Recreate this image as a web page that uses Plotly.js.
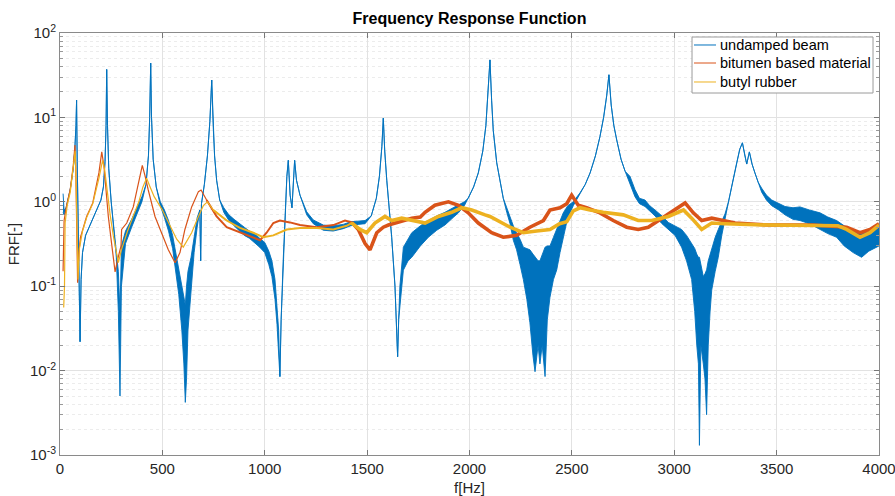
<!DOCTYPE html>
<html>
<head>
<meta charset="utf-8">
<script src="https://cdn.plot.ly/plotly-3.0.1.min.js"></script>
<style>html,body{margin:0;padding:0;background:#fff;}#chart{width:895px;height:496px;}</style>
</head>
<body>
<div id="chart"></div>
<script>
// ---------- data ----------
const seriesNames = ['undamped beam', 'bitumen based material', 'butyl rubber'];

// undamped beam: frequency, lower and upper edge of the (noisy) trace
const blueFreq = [
 15,20,30,50,65,72,78,81,84,88,
 93,98,103,110,125,150,175,200,212,220,
 225,228,232,238,250,262,275,285,293,300,
 320,350,380,400,420,432,438,443,447,455,
 470,490,510,530,550,565,580,595,605,612,
 618,625,640,655,670,683,687,691,705,720,
 732,741,748,755,765,780,800,825,850,875,
 900,925,950,975,1000,1020,1035,1050,1060,1068,
 1074,1080,1090,1100,1108,1115,1124,1133,1140,1146,
 1155,1172,1205,1237,1286,1334,1383,1420,1456,1490,
 1520,1545,1560,1572,1579,1586,1596,1610,1620,1636,
 1644,1649,1654,1660,1677,1700,1718,1760,1799,1840,
 1880,1920,1946,1975,1994,2020,2043,2065,2080,2092,
 2100,2108,2116,2133,2150,2165,2182,2198,2214,2230,
 2247,2263,2280,2295,2310,2320,2335,2344,2355,2369,
 2380,2393,2410,2426,2442,2458,2480,2507,2540,2565,
 2589,2615,2637,2655,2670,2681,2692,2705,2719,2740,
 2760,2784,2808,2830,2857,2880,2906,2940,2971,3004,
 3036,3060,3085,3100,3110,3118,3123,3130,3142,3150,
 3158,3166,3175,3183,3200,3215,3232,3248,3265,3280,
 3293,3305,3320,3333,3345,3354,3367,3380,3394,3410,
 3427,3450,3476,3510,3541,3580,3614,3660,3712,3750,
 3793,3830,3874,3915,3950,3988,4000];
const blueLow = [
 0.75,0.7,0.85,1.4,2.5,4.0,8,16,3,0.6,
 0.1,0.022,0.12,0.25,0.4,0.55,0.75,1.05,1.5,3,
 8,37,8,2.5,1.0,0.5,0.22,0.05,0.005,0.1,
 0.32,0.5,0.75,1.0,1.6,3.5,10,44,10,3.2,
 1.5,0.9,0.65,0.45,0.28,0.15,0.08,0.03,0.012,0.0042,
 0.008,0.03,0.09,0.25,0.5,0.8,0.2,0.95,1.6,3.5,
 9,27.7,8,3.5,1.8,1.05,0.75,0.6,0.52,0.46,
 0.4,0.37,0.33,0.29,0.25,0.18,0.13,0.07,0.035,0.015,
 0.0085,0.04,0.2,0.8,2.0,3.1,1.2,0.85,1.5,3.1,
 1.8,1.2,0.7,0.55,0.46,0.45,0.48,0.52,0.54,0.55,
 0.68,1.1,2.0,4.5,9.8,4,1.8,0.7,0.38,0.1,
 0.03,0.0146,0.04,0.06,0.155,0.2,0.22,0.3,0.38,0.46,
 0.53,0.65,0.74,0.9,1.1,1.5,2.2,4,8,20,
 48,16,7,2.9,1.7,1.1,0.75,0.55,0.35,0.27,
 0.18,0.12,0.07,0.037,0.015,0.0097,0.02,0.012,0.02,0.0085,
 0.04,0.074,0.12,0.156,0.25,0.38,0.65,0.9,1.28,1.6,
 2.2,3.5,5.9,10,18,32,14,8,5.4,3.2,
 2.3,1.6,1.15,0.95,0.88,0.78,0.68,0.55,0.47,0.4,
 0.29,0.2,0.12,0.05,0.02,0.012,0.0013,0.02,0.012,0.008,
 0.003,0.02,0.05,0.09,0.15,0.22,0.4,0.6,1.0,1.5,
 2.2,2.9,4.2,5.0,3.5,2.8,3.9,2.8,2.2,1.7,
 1.3,1.05,0.9,0.8,0.7,0.62,0.6,0.55,0.47,0.42,
 0.38,0.3,0.25,0.22,0.26,0.29,0.3];
const blueHigh = [
 1.25,0.8,0.85,1.4,2.5,4.0,8,16,3,0.6,
 0.1,0.022,0.12,0.25,0.4,0.55,0.75,1.05,1.5,3,
 8,37,8,2.5,1.0,0.5,0.22,0.15,0.05,0.3,
 0.45,0.62,0.9,1.15,1.6,3.5,10,44,10,3.2,
 1.5,1.0,0.8,0.6,0.4,0.25,0.16,0.1,0.08,0.06,
 0.1,0.15,0.22,0.4,0.65,0.8,0.2,0.95,1.6,3.5,
 9,27.7,8,3.5,1.8,1.05,0.85,0.7,0.62,0.55,
 0.5,0.45,0.42,0.37,0.33,0.26,0.2,0.12,0.06,0.03,
 0.0085,0.04,0.2,0.8,2.0,3.1,1.2,0.85,1.5,3.1,
 1.8,1.2,0.76,0.61,0.53,0.52,0.54,0.58,0.59,0.6,
 0.68,1.1,2.0,4.5,9.8,4,1.8,0.7,0.38,0.1,
 0.03,0.0146,0.04,0.1,0.29,0.36,0.43,0.52,0.6,0.68,
 0.75,0.85,0.91,1.0,1.1,1.5,2.2,4,8,20,
 48,16,7,2.9,1.7,1.1,0.85,0.65,0.52,0.43,
 0.36,0.29,0.28,0.27,0.24,0.22,0.2,0.2,0.24,0.29,
 0.3,0.3,0.38,0.47,0.6,0.74,0.9,1.0,1.28,1.6,
 2.2,3.5,5.9,10,18,32,14,8,5.4,3.2,
 2.3,2.0,1.4,1.1,1.05,0.9,0.8,0.68,0.57,0.52,
 0.47,0.4,0.32,0.28,0.24,0.22,0.22,0.18,0.13,0.14,
 0.156,0.2,0.24,0.29,0.38,0.47,0.58,0.72,1.0,1.5,
 2.2,2.9,4.2,5.0,3.5,2.8,3.9,2.8,2.2,1.7,
 1.45,1.2,1.05,0.95,0.88,0.85,0.87,0.8,0.74,0.66,
 0.6,0.52,0.47,0.43,0.46,0.5,0.5];

// bitumen based material
const orangeFreq = [
 15,20,30,50,65,73,77,81,86,92,
 100,130,160,190,204,215,225,236,252,269,
 280,290,298,301,326,358,383,402,416,431,
 464,497,529,562,586,610,643,676,689,716,
 765,814,879,944,977,1009,1042,1074,1123,1172,
 1254,1335,1392,1425,1457,1490,1514,1547,1579,1604,
 1652,1718,1760,1783,1831,1897,1946,1994,2043,2108,
 2165,2230,2295,2361,2393,2442,2475,2499,2531,2572,
 2637,2702,2768,2824,2873,2939,3004,3053,3093,3134,
 3183,3232,3297,3460,3679,3842,3907,3956,4000];
const orangeVal = [
 0.15,0.6,0.85,1.4,2.7,4.7,2.5,0.6,0.11,0.25,
 0.38,0.67,0.97,2.2,3.9,2.6,1.3,0.67,0.32,0.148,
 0.2,0.25,0.3,0.47,0.56,0.87,1.65,2.7,2.0,1.38,
 0.67,0.43,0.27,0.19,0.25,0.47,0.87,1.32,1.38,1.05,
 0.67,0.5,0.43,0.37,0.35,0.43,0.56,0.6,0.57,0.53,
 0.5,0.53,0.6,0.57,0.47,0.32,0.27,0.43,0.5,0.53,
 0.57,0.64,0.66,0.75,0.91,1.0,0.91,0.74,0.56,0.43,
 0.38,0.4,0.5,0.6,0.8,0.85,0.95,1.2,0.91,0.85,
 0.74,0.6,0.5,0.47,0.5,0.64,0.8,0.97,0.74,0.6,
 0.64,0.6,0.56,0.53,0.53,0.5,0.43,0.47,0.55];

// butyl rubber
const yellowFreq = [
 18,22,25,35,50,65,74,78,83,88,
 95,110,130,160,190,208,218,230,245,260,
 275,285,300,330,360,385,405,423,440,460,
 500,540,570,602,643,676,700,720,749,814,
 879,944,993,1042,1107,1172,1254,1335,1400,1425,
 1465,1498,1538,1587,1620,1669,1718,1783,1848,1913,
 1962,2011,2076,2100,2198,2263,2328,2393,2440,2475,
 2507,2540,2589,2653,2751,2824,2890,2971,3045,3085,
 3134,3183,3248,3460,3800,3842,3907,3956,4000];
const yellowVal = [
 0.056,0.1,0.56,0.9,1.3,2.4,4.0,2.0,0.5,0.12,
 0.28,0.45,0.65,0.95,1.9,3.1,2.4,1.3,0.7,0.4,
 0.25,0.19,0.27,0.45,0.7,1.0,1.5,1.9,1.5,1.15,
 0.8,0.5,0.36,0.29,0.43,0.67,0.9,1.0,0.8,0.6,
 0.49,0.43,0.38,0.4,0.47,0.49,0.49,0.47,0.52,0.56,
 0.47,0.43,0.56,0.67,0.6,0.64,0.6,0.56,0.67,0.75,
 0.85,0.8,0.7,0.67,0.5,0.43,0.45,0.47,0.55,0.58,
 0.78,0.85,0.8,0.75,0.7,0.6,0.6,0.67,0.8,0.64,
 0.47,0.56,0.55,0.53,0.52,0.47,0.38,0.43,0.53];

const yTickVals = [0.001, 0.01, 0.1, 1, 10, 100];
const yTickText = ['10<sup>-3</sup>', '10<sup>-2</sup>', '10<sup>-1</sup>', '10<sup>0</sup>', '10<sup>1</sup>', '10<sup>2</sup>'];
const xTickVals = [0, 500, 1000, 1500, 2000, 2500, 3000, 3500, 4000];
const xTickText = ['0', '500', '1000', '1500', '2000', '2500', '3000', '3500', '4000'];

// ---------- styling ----------
const cBlue = '#0072BD', cOrange = '#D95319', cYellow = '#EDB120';
const seriesColors = [cBlue, cOrange, cYellow];

// split a damped series into frequency ranges drawn with different stroke widths
function segment(fr, v, a, b) {
  let i0 = fr.findIndex(f => f >= a); if (i0 > 0) i0 -= 1;
  let i1 = fr.length - 1; for (let i = 0; i < fr.length; i++) { if (fr[i] > b) { i1 = i; break; } }
  return {x: fr.slice(i0, i1 + 1), y: v.slice(i0, i1 + 1)};
}
const widthBands = [[0, 760, 1.2], [760, 1450, 2.0], [1450, 4000, 3.6]];

const traces = [];
traces.push({x: blueFreq, y: blueHigh, type: 'scatter', mode: 'lines', name: seriesNames[0],
  line: {color: cBlue, width: 0.9}, showlegend: false});
traces.push({x: blueFreq, y: blueLow, type: 'scatter', mode: 'lines', fill: 'tonexty',
  fillcolor: cBlue, line: {color: cBlue, width: 0.9}, showlegend: false, hoverinfo: 'skip'});

[[orangeFreq, orangeVal, cOrange, seriesNames[1]], [yellowFreq, yellowVal, cYellow, seriesNames[2]]].forEach(s => {
  widthBands.forEach((wb) => {
    const seg = segment(s[0], s[1], wb[0], wb[1]);
    traces.push({x: seg.x, y: seg.y, type: 'scatter', mode: 'lines', name: s[3],
      line: {color: s[2], width: wb[2]}, showlegend: false});
  });
});

const minorVals = [];
for (let e = -3; e < 2; e++) for (let m = 2; m <= 9; m++) minorVals.push(m * Math.pow(10, e));

const ff = '"Liberation Sans", Arial, Helvetica, sans-serif';
const font = {family: ff, size: 15, color: '#262626'};

// legend box drawn in paper coordinates (MATLAB-style compact legend)
const legBox = {x0: 0.7717, x1: 0.9927, y0: 0.8578, y1: 0.9905};
const legRows = [0.9716, 0.9289, 0.8839];
const shapes = [{type: 'rect', xref: 'paper', yref: 'paper', x0: legBox.x0, x1: legBox.x1, y0: legBox.y0, y1: legBox.y1,
  line: {color: '#9a9a9a', width: 1}, fillcolor: '#ffffff', layer: 'above'}];
const annotations = [];
seriesNames.forEach((n, i) => {
  shapes.push({type: 'line', xref: 'paper', yref: 'paper', x0: 0.7741, x1: 0.8010, y0: legRows[i], y1: legRows[i],
    line: {color: seriesColors[i], width: 1}, layer: 'above'});
  annotations.push({xref: 'paper', yref: 'paper', x: 0.8034, y: legRows[i], xanchor: 'left', yanchor: 'middle',
    text: n, showarrow: false, font: {family: ff, size: 14.5, color: '#000'}});
});

const layout = {
  width: 895, height: 496,
  margin: {l: 60, r: 16, t: 33, b: 41, pad: 0},
  paper_bgcolor: '#ffffff', plot_bgcolor: '#ffffff',
  font: font,
  title: {text: '<b>Frequency Response Function</b>', font: {family: ff, size: 16, color: '#000'},
    x: 0.5, xref: 'paper', xanchor: 'center', y: 1 - 18 / 496, yref: 'container', yanchor: 'middle'},
  xaxis: {
    range: [0, 4000], tickvals: xTickVals, ticktext: xTickText, ticklabeloverflow: 'allow',
    ticks: 'inside', ticklen: 5, tickcolor: '#777', showline: true, linecolor: '#8a8a8a', linewidth: 1,
    mirror: 'ticks', showgrid: true, gridcolor: '#e2e2e2', zeroline: false,
    tickfont: {family: ff, size: 15, color: '#262626'},
    title: {text: 'f[Hz]', font: {family: ff, size: 15, color: '#262626'}, standoff: 6}
  },
  yaxis: {
    type: 'log', range: [-3, 2], tickvals: yTickVals, ticktext: yTickText, ticklabeloverflow: 'allow',
    ticks: 'inside', ticklen: 5, tickcolor: '#777', showline: true, linecolor: '#8a8a8a', linewidth: 1,
    mirror: 'ticks', showgrid: true, gridcolor: '#e2e2e2', zeroline: false,
    tickfont: {family: ff, size: 15, color: '#262626'},
    minor: {tickvals: minorVals, ticks: 'inside', ticklen: 3, tickcolor: '#999', showgrid: true, gridcolor: '#ececec', griddash: 'dot'},
    title: {text: 'FRF[-]', font: {family: ff, size: 15, color: '#262626'}, standoff: 6}
  },
  showlegend: false,
  shapes: shapes,
  annotations: annotations
};

Plotly.newPlot('chart', traces, layout, {displayModeBar: false, staticPlot: true});
</script>
</body>
</html>
